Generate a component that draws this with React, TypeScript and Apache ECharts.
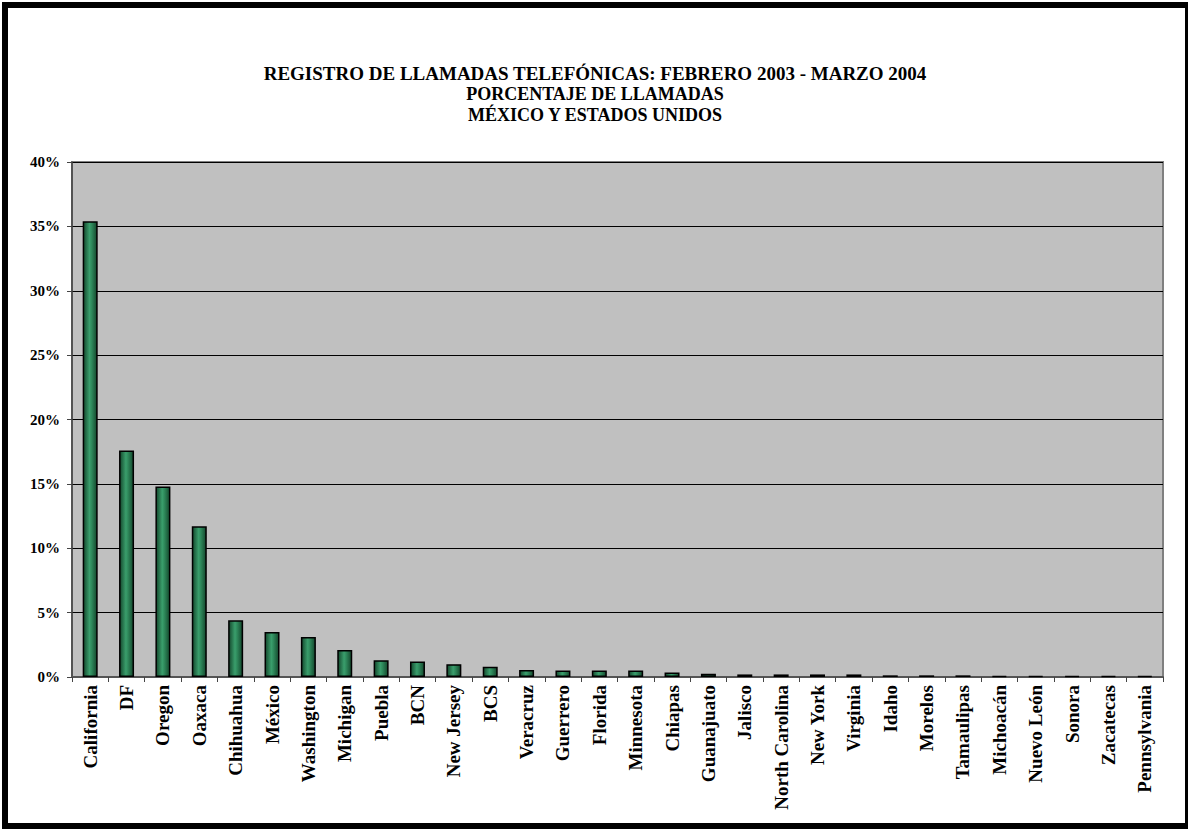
import React, { useEffect, useRef } from "react";
import * as echarts from "echarts";

const categories = [
  "California", "DF", "Oregon", "Oaxaca", "Chihuahua", "México", "Washington",
  "Michigan", "Puebla", "BCN", "New Jersey", "BCS", "Veracruz", "Guerrero",
  "Florida", "Minnesota", "Chiapas", "Guanajuato", "Jalisco", "North Carolina",
  "New York", "Virginia", "Idaho", "Morelos", "Tamaulipas", "Michoacán",
  "Nuevo León", "Sonora", "Zacatecas", "Pennsylvania",
];
const percentValues = [
  35.4, 17.6, 14.8, 11.7, 4.4, 3.5, 3.1, 2.1, 1.3, 1.2, 1.0, 0.8, 0.55, 0.5,
  0.5, 0.5, 0.35, 0.25, 0.2, 0.2, 0.2, 0.2, 0.13, 0.13, 0.13, 0.08, 0.08, 0.08,
  0.08, 0.08,
];
const titleLines = [
  "REGISTRO DE LLAMADAS TELEFÓNICAS: FEBRERO 2003 - MARZO 2004",
  "PORCENTAJE DE LLAMADAS",
  "MÉXICO Y ESTADOS UNIDOS",
];
const yTicks = { min: 0, max: 40, interval: 5 };

const FONT = "'Liberation Serif', 'Times New Roman', serif";

export default function App() {
  const ref = useRef<HTMLDivElement>(null);
  useEffect(() => {
    if (!ref.current) return;
    const chart = echarts.init(ref.current, null, { renderer: "svg" });
    const titleGraphics = titleLines.map((line, i) => ({
      type: "text",
      x: 595,
      y: 73 + i * 21,
      style: {
        text: line,
        align: "center",
        verticalAlign: "middle",
        fontFamily: FONT,
        fontWeight: "bold",
        fontSize: i === 0 ? 19 : 18,
        fill: "#000",
      },
      silent: true,
    }));
    chart.setOption({
      animation: false,
      backgroundColor: "#ffffff",
      graphic: [
        ...titleGraphics,
        {
          type: "rect",
          shape: { x: 5, y: 5, width: 1183, height: 821 },
          style: { fill: "none", stroke: "#000", lineWidth: 6 },
          silent: true,
          z: 100,
        },
      ],
      grid: {
        left: 72,
        right: 25,
        top: 162,
        bottom: 152,
        show: true,
        backgroundColor: "#c0c0c0",
        borderColor: "#808080",
        borderWidth: 2,
      },
      xAxis: {
        type: "category",
        data: categories,
        axisLine: { lineStyle: { color: "#555", width: 2 } },
        axisTick: { show: true, length: 5, alignWithLabel: false, lineStyle: { color: "#444" } },
        axisLabel: {
          rotate: 90,
          interval: 0,
          margin: 8,
          fontFamily: FONT,
          fontWeight: "bold",
          fontSize: 19,
          color: "#000",
        },
      },
      yAxis: {
        type: "value",
        min: yTicks.min,
        max: yTicks.max,
        interval: yTicks.interval,
        axisLine: { show: true, lineStyle: { color: "#444", width: 1.5 } },
        axisTick: { show: true, length: 5, lineStyle: { color: "#444" } },
        splitLine: { lineStyle: { color: "#000", width: 1 } },
        axisLabel: {
          formatter: "{value}%",
          margin: 12,
          fontFamily: FONT,
          fontWeight: "bold",
          fontSize: 15,
          color: "#000",
        },
      },
      series: [
        {
          type: "bar",
          data: percentValues,
          barWidth: 15,
          itemStyle: {
            color: new echarts.graphic.LinearGradient(0, 0, 1, 0, [
              { offset: 0, color: "#14482d" },
              { offset: 0.45, color: "#3a9e6c" },
              { offset: 0.6, color: "#2f8a5c" },
              { offset: 1, color: "#14482d" },
            ]),
            borderColor: "#000",
            borderWidth: 1.5,
          },
        },
      ],
    });
    return () => chart.dispose();
  }, []);
  return (
    <div
      ref={ref}
      style={{ position: "absolute", left: 0, top: 0, width: 1188, height: 829 }}
    />
  );
}
